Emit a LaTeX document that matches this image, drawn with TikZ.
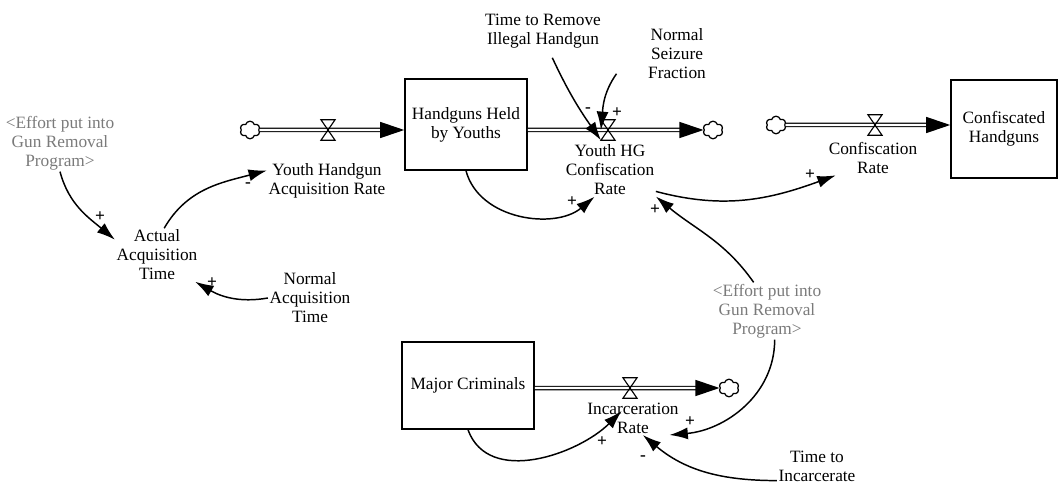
\documentclass[tikz,border=0pt]{standalone}
\usepackage{fontspec}
\setmainfont{Liberation Serif}
\usepackage{tikz}
\usetikzlibrary{arrows.meta,positioning,shapes.symbols}
\definecolor{ShadowGray}{HTML}{7A7A7A}

\tikzset{
  lbl/.style={font=\fontsize{12.3}{13.5}\selectfont, align=center, inner sep=1pt},
  shadowlbl/.style={lbl, text=ShadowGray},
  stock/.style={lbl, draw, line width=1.1pt},
  sinkcloud/.style={cloud, cloud puffs=6, draw, line width=0.9pt, minimum width=0.5cm, minimum height=0.44cm, inner sep=0pt},
  valve/.style={minimum width=0.34cm, minimum height=0.5cm, inner sep=0pt},
  pipe/.style={double, double distance=1.5pt, line width=0.85pt, -{Triangle[length=0.6cm,width=0.4cm]}},
  link/.style={line width=1.05pt, -{Latex[length=0.46cm,width=0.3cm]}},
  sign/.style={font=\bfseries\fontsize{12.3}{13.5}\selectfont, inner sep=0pt}
}

\begin{document}
\begin{tikzpicture}[x=0.025cm, y=-0.025cm]
\useasboundingbox (0,0) rectangle (1060,485);

% stocks
\node[stock, minimum width=3.05cm, minimum height=2.275cm] (hhy) at (466,124.5) {Handguns Held\\by Youths};
\node[stock, minimum width=2.65cm, minimum height=2.45cm] (ch) at (1004,129) {Confiscated\\Handguns};
\node[stock, minimum width=3.3cm, minimum height=2.175cm] (mc) at (468,385.5) {Major Criminals};

% clouds and valves
\node[sinkcloud] (c1) at (250,130) {};
\node[sinkcloud] (c2) at (713,130) {};
\node[sinkcloud] (c3) at (776,125) {};
\node[sinkcloud] (c4) at (729,388) {};
\node[valve] (v1) at (328,130) {};
\node[valve] (v2) at (608,130) {};
\node[valve] (v3) at (875,125) {};
\node[valve] (v4) at (630,388) {};

% flows
\draw[pipe] (c1.east) -- (c1 -| hhy.west);
\draw[pipe] (hhy.east |- c2) -- (c2.west);
\draw[pipe] (c3.east) -- (c3 -| ch.west);
\draw[pipe] (mc.east |- c4) -- (c4.west);
\foreach \v in {v1,v2,v3,v4}
  \draw[line width=0.8pt] (\v.north west) -- (\v.north east) -- (\v.south west) -- (\v.south east) -- cycle;

% variables
\node[lbl] (yhar) at (327,181) {Youth Handgun\\Acquisition Rate};
\node[lbl] (yhcr) at (610,170) {Youth HG\\Confiscation\\Rate};
\node[lbl] (cr) at (873,158) {Confiscation\\Rate};
\node[lbl] (ir) at (633,418) {Incarceration\\Rate};
\node[lbl] (aat) at (157,255) {Actual\\Acquisition\\Time};
\node[lbl] (nat) at (310,298) {Normal\\Acquisition\\Time};
\node[lbl] (trih) at (543,31) {Time to Remove\\Illegal Handgun};
\node[lbl] (nsf) at (677,54) {Normal\\Seizure\\Fraction};
\node[lbl] (tti) at (817,466) {Time to\\Incarcerate};
\node[shadowlbl] (effA) at (60,143) {<Effort put into\\Gun Removal\\Program>};
\node[shadowlbl] (effB) at (767,311) {<Effort put into\\Gun Removal\\Program>};

% links
\draw[link] (effA.south) to[out=-75,in=140] (aat.160);
\draw[link] (aat.75) to[out=60,in=195] (yhar.170);
\draw[link] (nat.west) to[out=190,in=-30] (aat.-35);
\draw[link] ([shift={(6,8)}]trih.-80) to[out=-65,in=125] (v2.south west);
\draw[link] ([shift={(-30,-7)}]nsf.south west) to[out=-125,in=85] (v2.west);
\draw[link] (hhy.south) to[out=-75,in=220] (yhcr.-120);
\draw[link] (yhcr.-25) to[out=-15,in=200] (cr.205);
\draw[link] (effB.115) to[out=125,in=-40] (yhcr.-30);
\draw[link] (effB.-75) to[out=-90,in=5] (ir.-25);
\draw[link] (tti.200) to[out=180,in=-40] (ir.-60);
\draw[link] (mc.south) to[out=-70,in=225] ([shift={(36,-24)}]ir.south west);

% polarities
\foreach \px/\py/\sg [count=\i] in {100/217/+, 248/185/-, 212/283/+, 588/110/-, 617/113/+,
    572/202/+, 810/175/+, 655/210/+, 690/422/+, 643/458/-, 602/442/+}
  \node[sign] (s\i) at (\px,\py) {\sg};
\end{tikzpicture}
\end{document}
